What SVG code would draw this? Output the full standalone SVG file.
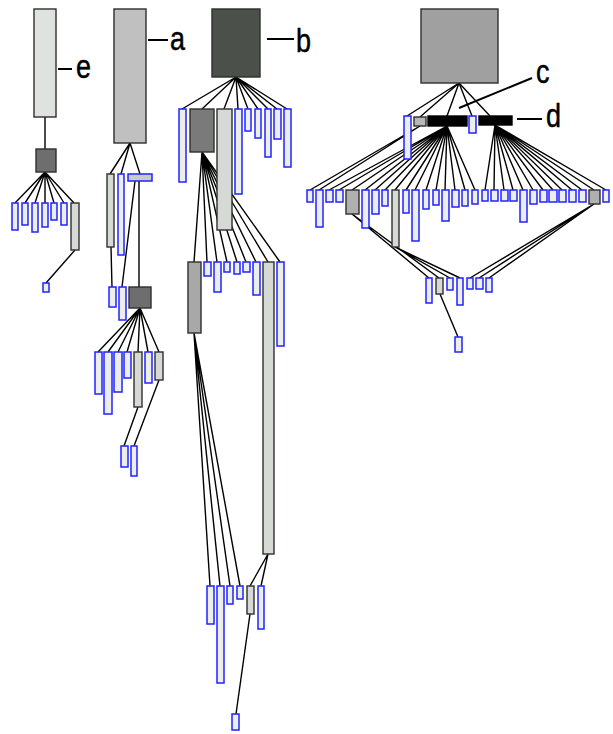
<svg xmlns="http://www.w3.org/2000/svg" width="613" height="734" viewBox="0 0 613 734">
<style>
rect{stroke:#2e2e2e;stroke-width:1.4}
.b{fill:#eceeec;stroke:#2222ff;stroke-width:1.5}
.lg{fill:#d6dad5}
.hb{fill:#c8ccc8;stroke:#2222ff;stroke-width:1.5}
.dk{fill:#6e6e6e}
.g{fill:#b0b0b0}
.blk{fill:#000;stroke:#000}
.lbl{font-family:"Liberation Sans",Arial,sans-serif;font-size:27px;fill:#000;stroke:#000;stroke-width:0.4}
.ll{stroke:#000;stroke-width:2}
</style>
<g id="connectors" fill="none" stroke="#000" stroke-width="1.4">
<!-- tree e -->
<path d="M45 117L45 149"/>
<path d="M45 172L15 203M45 172L25 203M45 172L35 203M45 172L45 203M45 172L54 203M45 172L64 203M45 172L74 203"/>
<path d="M75 250L46 283"/>
<!-- tree a -->
<path d="M130 143L110 174M130 143L121 174M130 143L140 174"/>
<path d="M111 247L112 287M135 181L122 287M139 181L139 287"/>
<path d="M140 308L98 352M140 308L108 352M140 308L118 352M140 308L127 352M140 308L138 352M140 308L148 352M140 308L159 352"/>
<path d="M138 407L124 446M159 380L134 446"/>
<!-- tree b -->
<path d="M236 77L182 109M236 77L202 109M236 77L224 109M236 77L238 109M236 77L248 109M236 77L258 109M236 77L268 109M236 77L277 109M236 77L287 109"/>
<path d="M202 152L194 262M202 152L207 262M202 152L217 262M202 152L227 262M202 152L237 262M202 152L246 262M202 152L256 262M202 152L268 262M202 152L280 262"/>
<path d="M194 333L210 586M194 333L220 586M194 333L230 586M194 333L240 586"/>
<path d="M268 554L250 586M268 554L261 586"/>
<path d="M250 614L236 714"/>
<!-- tree c/d -->
<path d="M459 83L407 116M459 83L420 117M459 83L447 116M459 83L472 116M459 83L490 116"/>
<path d="M420 126L310 190M420 126L319 190"/>
<path d="M447 126L329 190M447 126L339 190M447 126L352 190M447 126L365 190M447 126L375 190M447 126L385 190M447 126L395 190M447 126L406 190M447 126L415 190M447 126L426 190M447 126L436 190M447 126L445 190M447 126L455 190M447 126L465 190M447 126L475 190"/>
<path d="M495 125L485 190M495 125L494 190M495 125L504 190M495 125L513 190M495 125L523 190M495 125L533 190M495 125L543 190M495 125L553 190M495 125L562 190M495 125L572 190M495 125L582 190M495 125L594 190M495 125L606 190"/>
<path d="M352 214L429 278M352 214L439 278M395 247L450 278M395 247L460 278"/>
<path d="M594 204L470 278M594 204L479 278M594 204L489 278"/>
<path d="M440 294L458 337"/>
</g>
<g id="tree-e">
<rect id="e-root" x="34" y="9" width="22" height="108" fill="#dfe3df"/>
<rect id="e-n1" class="dk" x="36" y="149" width="20" height="23"/>
<rect class="b" x="12" y="203" width="6" height="27"/>
<rect class="b" x="22" y="203" width="6" height="22"/>
<rect class="b" x="32" y="203" width="6" height="29"/>
<rect class="b" x="42" y="203" width="6" height="24"/>
<rect class="b" x="51" y="203" width="6" height="17"/>
<rect class="b" x="61" y="203" width="6" height="22"/>
<rect id="e-n2" class="lg" x="71" y="203" width="8" height="47"/>
<rect class="b" x="43" y="283" width="6" height="9"/>
</g>
<g id="tree-a">
<rect id="a-root" x="114" y="9" width="32" height="134" fill="#c0c0c0"/>
<rect class="lg" x="107" y="174" width="7" height="73"/>
<rect class="b" x="118" y="174" width="6" height="81"/>
<rect class="hb" x="128" y="174" width="24" height="7"/>
<rect class="b" x="109" y="287" width="7" height="20"/>
<rect class="b" x="119" y="287" width="7" height="33"/>
<rect id="a-n3" class="dk" x="129" y="287" width="22" height="21"/>
<rect class="b" x="95" y="352" width="7" height="42"/>
<rect class="b" x="104" y="352" width="8" height="62"/>
<rect class="b" x="114" y="352" width="8" height="40"/>
<rect class="b" x="124" y="352" width="7" height="26"/>
<rect class="lg" x="134" y="352" width="8" height="55"/>
<rect class="b" x="145" y="352" width="7" height="31"/>
<rect class="lg" x="155" y="352" width="8" height="28"/>
<rect class="b" x="121" y="446" width="7" height="21"/>
<rect class="b" x="131" y="446" width="6" height="30"/>
</g>
<g id="tree-b">
<rect id="b-root" x="212" y="9" width="48" height="68" fill="#4b504b"/>
<rect class="b" x="179" y="109" width="7" height="73"/>
<rect x="190" y="109" width="24" height="43" fill="#7a7a7a"/>
<rect class="lg" x="217" y="109" width="15" height="121"/>
<rect class="b" x="235" y="109" width="7" height="85"/>
<rect class="b" x="245" y="109" width="6" height="22"/>
<rect class="b" x="255" y="109" width="6" height="29"/>
<rect class="b" x="265" y="109" width="6" height="48"/>
<rect class="b" x="274" y="109" width="7" height="30"/>
<rect class="b" x="284" y="109" width="7" height="58"/>
<rect x="188" y="262" width="13" height="71" fill="#a8a8a8"/>
<rect class="b" x="204" y="262" width="7" height="14"/>
<rect class="b" x="214" y="262" width="7" height="30"/>
<rect class="b" x="224" y="262" width="6" height="10"/>
<rect class="b" x="234" y="262" width="6" height="12"/>
<rect class="b" x="243" y="262" width="7" height="10"/>
<rect class="b" x="253" y="262" width="7" height="33"/>
<rect class="lg" x="263" y="262" width="11" height="292"/>
<rect class="b" x="277" y="262" width="7" height="84"/>
<rect class="b" x="207" y="586" width="7" height="38"/>
<rect class="b" x="217" y="586" width="7" height="97"/>
<rect class="b" x="227" y="586" width="6" height="18"/>
<rect class="b" x="237" y="586" width="6" height="13"/>
<rect class="lg" x="247" y="586" width="7" height="28"/>
<rect class="b" x="258" y="586" width="6" height="43"/>
<rect class="b" x="232" y="714" width="7" height="16"/>
</g>
<g id="tree-cd">
<rect id="cd-root" x="421" y="9" width="77" height="74" fill="#a0a0a0"/>
<rect class="b" x="404" y="116" width="7" height="43"/>
<rect x="414" y="117" width="12" height="9" fill="#b8b8b8"/>
<rect id="c" class="blk" x="428" y="116" width="39" height="10"/>
<rect class="b" x="469" y="116" width="7" height="17"/>
<rect id="d" class="blk" x="479" y="116" width="33" height="9"/>
<rect class="b" x="307" y="190" width="6" height="12"/>
<rect class="b" x="316" y="190" width="7" height="37"/>
<rect class="b" x="326" y="190" width="7" height="12"/>
<rect class="b" x="336" y="190" width="7" height="12"/>
<rect class="g" x="346" y="190" width="13" height="24"/>
<rect class="b" x="362" y="190" width="7" height="38"/>
<rect class="b" x="372" y="190" width="7" height="24"/>
<rect class="b" x="382" y="190" width="6" height="16"/>
<rect class="lg" x="392" y="190" width="7" height="57"/>
<rect class="b" x="403" y="190" width="6" height="23"/>
<rect class="b" x="412" y="190" width="7" height="51"/>
<rect class="b" x="423" y="190" width="6" height="19"/>
<rect class="b" x="433" y="190" width="6" height="15"/>
<rect class="b" x="442" y="190" width="7" height="31"/>
<rect class="b" x="452" y="190" width="7" height="17"/>
<rect class="b" x="462" y="190" width="6" height="16"/>
<rect class="b" x="472" y="190" width="6" height="14"/>
<rect class="b" x="482" y="190" width="6" height="11"/>
<rect class="b" x="491" y="190" width="7" height="11"/>
<rect class="b" x="501" y="190" width="7" height="11"/>
<rect class="b" x="510" y="190" width="7" height="11"/>
<rect class="b" x="520" y="190" width="7" height="32"/>
<rect class="b" x="530" y="190" width="7" height="14"/>
<rect class="b" x="540" y="190" width="7" height="12"/>
<rect class="b" x="549" y="190" width="8" height="12"/>
<rect class="b" x="559" y="190" width="7" height="12"/>
<rect class="b" x="569" y="190" width="7" height="12"/>
<rect class="b" x="579" y="190" width="7" height="12"/>
<rect class="g" x="589" y="190" width="11" height="14"/>
<rect class="b" x="603" y="190" width="6" height="12"/>
<rect class="b" x="426" y="278" width="6" height="25"/>
<rect class="lg" x="436" y="278" width="7" height="16"/>
<rect class="b" x="447" y="278" width="6" height="12"/>
<rect class="b" x="457" y="278" width="6" height="27"/>
<rect class="b" x="467" y="278" width="6" height="11"/>
<rect class="b" x="476" y="278" width="7" height="11"/>
<rect class="b" x="486" y="278" width="6" height="14"/>
<rect class="b" x="455" y="337" width="7" height="15"/>
</g>
<g id="labels">
<g id="label-e"><line class="ll" x1="58" y1="69" x2="72" y2="69"/><text class="lbl" transform="translate(76,78) scale(1,1.2)">e</text></g>
<g id="label-a"><line class="ll" x1="148" y1="40" x2="168" y2="40"/><text class="lbl" transform="translate(170,50) scale(1,1.2)">a</text></g>
<g id="label-b"><line class="ll" x1="267" y1="39" x2="294" y2="39"/><text class="lbl" transform="translate(296,52) scale(1,1.2)">b</text></g>
<g id="label-c"><line class="ll" x1="459" y1="108" x2="532" y2="78"/><text class="lbl" transform="translate(536,83) scale(1,1.2)">c</text></g>
<g id="label-d"><line class="ll" x1="517" y1="119" x2="542" y2="119"/><text class="lbl" transform="translate(546,127) scale(1,1.2)">d</text></g>
</g>
</svg>
